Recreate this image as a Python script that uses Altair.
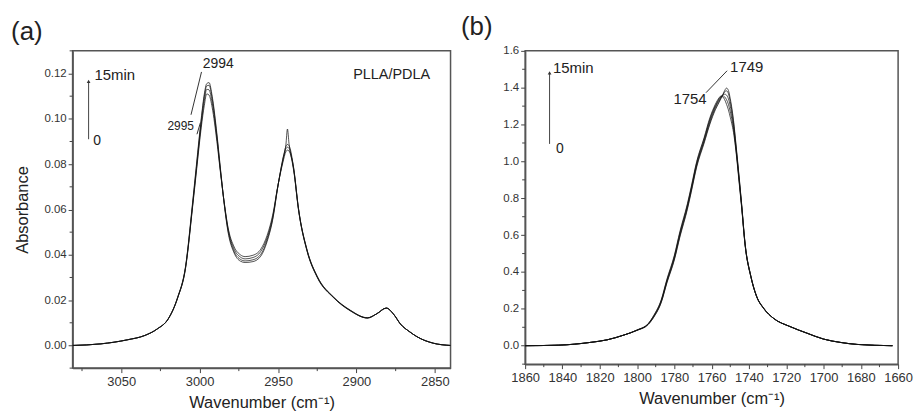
import altair as alt
import pandas as pd

FONT = "Liberation Sans"
INK = "#222222"
FRAME = "#555555"

# ---------------- Panel (a): C-H stretching region ----------------
WN_A = [3081, 3063, 3046, 3035, 3027, 3020, 3014, 3009, 3004.5, 3002, 2999, 2997,
        2995.5, 2994, 2992, 2989, 2986.5, 2984, 2982, 2978, 2974, 2971, 2966, 2961,
        2957, 2953, 2950.5, 2947, 2945, 2944, 2943, 2940, 2937, 2931.5, 2925, 2914.5,
        2904, 2893, 2887, 2881, 2876, 2872, 2866, 2861.5, 2851, 2840]
A_T0 = [0.0000, 0.0007, 0.0025, 0.0044, 0.0073, 0.0117, 0.0210, 0.0340, 0.0610, 0.0770, 0.0960, 0.1060,
        0.1110, 0.1105, 0.1050, 0.0900, 0.0750, 0.0615, 0.0525, 0.0435, 0.0400, 0.0392, 0.0398, 0.0425,
        0.0485, 0.0590, 0.0690, 0.0805, 0.0855, 0.0862, 0.0858, 0.0770, 0.0600, 0.0416, 0.0300, 0.0210,
        0.0153, 0.0121, 0.0140, 0.0165, 0.0135, 0.0095, 0.0060, 0.0039, 0.0010, 0.0000]
A_T5 = [0.0000, 0.0007, 0.0025, 0.0044, 0.0073, 0.0117, 0.0210, 0.0342, 0.0615, 0.0780, 0.0975, 0.1080,
        0.1130, 0.1128, 0.1070, 0.0915, 0.0755, 0.0612, 0.0520, 0.0425, 0.0390, 0.0382, 0.0388, 0.0415,
        0.0475, 0.0582, 0.0688, 0.0812, 0.0868, 0.0875, 0.0870, 0.0775, 0.0603, 0.0418, 0.0302, 0.0211,
        0.0154, 0.0121, 0.0140, 0.0165, 0.0135, 0.0095, 0.0060, 0.0039, 0.0010, 0.0000]
A_T10 = [0.0000, 0.0007, 0.0025, 0.0044, 0.0073, 0.0118, 0.0212, 0.0345, 0.0622, 0.0790, 0.0990, 0.1100,
         0.1145, 0.1148, 0.1090, 0.0925, 0.0760, 0.0608, 0.0512, 0.0415, 0.0380, 0.0373, 0.0378, 0.0402,
         0.0465, 0.0575, 0.0686, 0.0818, 0.0878, 0.0887, 0.0882, 0.0780, 0.0605, 0.0420, 0.0304, 0.0212,
         0.0155, 0.0122, 0.0140, 0.0165, 0.0135, 0.0095, 0.0060, 0.0039, 0.0010, 0.0000]
A_T15 = [0.0000, 0.0007, 0.0025, 0.0044, 0.0073, 0.0118, 0.0213, 0.0348, 0.0630, 0.0800, 0.1000, 0.1110,
         0.1155, 0.1160, 0.1100, 0.0935, 0.0765, 0.0605, 0.0505, 0.0408, 0.0372, 0.0366, 0.0370, 0.0394,
         0.0458, 0.0570, 0.0685, 0.0822, 0.0885, 0.0955, 0.0890, 0.0782, 0.0607, 0.0422, 0.0305, 0.0213,
         0.0156, 0.0122, 0.0140, 0.0165, 0.0135, 0.0095, 0.0060, 0.0039, 0.0010, 0.0000]
CURVES_A = {"0": A_T0, "5": A_T5, "10": A_T10, "15": A_T15}

X_DOMAIN_A = [2840, 3081]
Y_DOMAIN_A = [-0.01, 0.13]
X_MAJOR_A = [3050, 3000, 2950, 2900, 2850]
X_MINOR_A = [3075, 3025, 2975, 2925, 2875]
Y_MAJOR_A = [0.00, 0.02, 0.04, 0.06, 0.08, 0.10, 0.12]
Y_MINOR_A = [-0.01, 0.01, 0.03, 0.05, 0.07, 0.09, 0.11, 0.13]

TEXT_A = ["15min", "0", "2994", "2995", "PLLA/PDLA"]
TEXT_A_WN = [3067.1, 3067.8, 2998.0, 3020.5, 2902.1]
TEXT_A_ABS = [0.1195, 0.0900, 0.1243, 0.0968, 0.1195]
TEXT_A_SIZE = [15, 14, 14, 12, 14.5]

ARROW_A_WN = [3070.8]
ARROW_A_FROM = [0.0910]
ARROW_A_TO = [0.1165]
POINTER_A_WN1 = [3005.5, 3001.7]
POINTER_A_ABS1 = [0.1018, 0.0932]
POINTER_A_WN2 = [2998.8, 2999.5]
POINTER_A_ABS2 = [0.1207, 0.0983]

# ---------------- Panel (b): C=O stretching region ----------------
WN_B = [1860, 1842, 1825, 1816, 1807, 1800, 1794, 1791, 1787, 1784, 1780, 1777, 1773, 1771,
        1768, 1764, 1761, 1758, 1756, 1755, 1754, 1753, 1752, 1751, 1750, 1748, 1747, 1745,
        1744, 1742, 1739, 1736, 1732, 1727, 1718, 1709, 1700, 1691, 1682, 1663]
B_T0 = [0.000, 0.003, 0.018, 0.032, 0.058, 0.085, 0.120, 0.165, 0.250, 0.360, 0.490, 0.620, 0.770, 0.860,
        1.000, 1.130, 1.235, 1.310, 1.345, 1.355, 1.350, 1.335, 1.310, 1.280, 1.240, 1.140, 1.060, 0.860,
        0.760, 0.540, 0.375, 0.270, 0.200, 0.150, 0.104, 0.068, 0.036, 0.018, 0.007, 0.000]
B_T4 = [0.000, 0.003, 0.018, 0.032, 0.058, 0.085, 0.119, 0.163, 0.246, 0.355, 0.484, 0.613, 0.763, 0.852,
        0.993, 1.123, 1.227, 1.303, 1.340, 1.353, 1.356, 1.350, 1.335, 1.310, 1.270, 1.155, 1.070, 0.868,
        0.765, 0.543, 0.376, 0.270, 0.201, 0.150, 0.104, 0.068, 0.036, 0.018, 0.007, 0.000]
B_T8 = [0.000, 0.003, 0.018, 0.032, 0.058, 0.084, 0.118, 0.160, 0.242, 0.350, 0.477, 0.605, 0.755, 0.845,
        0.985, 1.115, 1.218, 1.296, 1.334, 1.350, 1.360, 1.365, 1.360, 1.340, 1.300, 1.170, 1.080, 0.876,
        0.770, 0.545, 0.377, 0.271, 0.202, 0.150, 0.104, 0.069, 0.036, 0.018, 0.007, 0.000]
B_T12 = [0.000, 0.003, 0.018, 0.032, 0.058, 0.084, 0.116, 0.157, 0.238, 0.344, 0.470, 0.597, 0.747, 0.837,
         0.977, 1.107, 1.208, 1.288, 1.327, 1.345, 1.362, 1.378, 1.383, 1.368, 1.325, 1.188, 1.090, 0.884,
         0.776, 0.548, 0.379, 0.271, 0.202, 0.150, 0.104, 0.069, 0.036, 0.018, 0.007, 0.000]
B_T15 = [0.000, 0.003, 0.018, 0.032, 0.058, 0.083, 0.115, 0.155, 0.235, 0.340, 0.465, 0.590, 0.740, 0.830,
         0.970, 1.100, 1.200, 1.280, 1.320, 1.340, 1.362, 1.385, 1.398, 1.385, 1.340, 1.200, 1.100, 0.890,
         0.780, 0.550, 0.380, 0.272, 0.203, 0.150, 0.104, 0.069, 0.036, 0.018, 0.007, 0.000]
CURVES_B = {"0": B_T0, "4": B_T4, "8": B_T8, "12": B_T12, "15": B_T15}

X_DOMAIN_B = [1660, 1860]
Y_DOMAIN_B = [-0.1, 1.6]
X_MAJOR_B = [1860, 1840, 1820, 1800, 1780, 1760, 1740, 1720, 1700, 1680, 1660]
X_MINOR_B = [1850, 1830, 1810, 1790, 1770, 1750, 1730, 1710, 1690, 1670]
Y_MAJOR_B = [0.0, 0.2, 0.4, 0.6, 0.8, 1.0, 1.2, 1.4, 1.6]
Y_MINOR_B = [-0.1, 0.1, 0.3, 0.5, 0.7, 0.9, 1.1, 1.3, 1.5]

TEXT_B = ["15min", "0", "1749", "1754"]
TEXT_B_WN = [1845.1, 1843.5, 1750.1, 1780.5]
TEXT_B_ABS = [1.505, 1.070, 1.514, 1.338]
TEXT_B_SIZE = [15, 14, 15, 15]

ARROW_B_WN = [1846.9]
ARROW_B_FROM = [1.095]
ARROW_B_TO = [1.480]
POINTER_B_WN1 = [1763.0]
POINTER_B_ABS1 = [1.373]
POINTER_B_WN2 = [1751.7]
POINTER_B_ABS2 = [1.492]


def long_table(wn, curves):
    rows = []
    for name, vals in curves.items():
        for w, v in zip(wn, vals):
            rows.append({"wn": w, "absb": v, "t": name})
    return pd.DataFrame(rows)


def panel(wn, curves, xdom, ydom, xmajor, xminor, ymajor, yminor, yfmt, ytitle,
          texts, arrow, pointers, width, height, label, title_dx):
    x_scale = alt.Scale(domain=xdom, reverse=True, nice=False, zero=False)
    y_scale = alt.Scale(domain=ydom, nice=False, zero=False)
    x_axis = alt.Axis(
        values=xmajor, tickCount=100, format="d", title="Wavenumber (cm⁻¹)", grid=False,
        tickSize=4.5, labelFontSize=13, titleFontSize=16.5, labelPadding=3, titlePadding=6,
        labelFlush=False, labelOverlap=False,
    )
    y_axis = alt.Axis(
        values=ymajor, tickCount=100, format=yfmt, title=ytitle, grid=False,
        tickSize=4.5, labelFontSize=11.5, titleFontSize=16.5, labelPadding=2, titlePadding=13,
        labelFlush=False, labelOverlap=False,
    )
    df = long_table(wn, curves)
    lines = alt.Chart(df).mark_line(
        color="#111111", strokeWidth=0.9, opacity=0.8, interpolate="monotone", clip=True
    ).encode(
        x=alt.X("wn:Q", scale=x_scale, axis=x_axis),
        y=alt.Y("absb:Q", scale=y_scale, axis=y_axis),
        detail="t:N",
    )

    # minor ticks (outward, shorter than the major ones)
    ymin_df = pd.DataFrame({"absb": yminor})
    y_minor_ticks = alt.Chart(ymin_df).mark_rule(color="#444444", strokeWidth=1, clip=False).encode(
        y=alt.Y("absb:Q", scale=y_scale), x=alt.value(-3), x2=alt.value(0)
    )
    xmin_df = pd.DataFrame({"wn": xminor})
    x_minor_ticks = alt.Chart(xmin_df).mark_rule(color="#444444", strokeWidth=1, clip=False).encode(
        x=alt.X("wn:Q", scale=x_scale), y=alt.value(height), y2=alt.value(height + 3)
    )

    t_lab, t_wn, t_abs, t_size = texts
    tdf = pd.DataFrame({"txt": t_lab, "wn": t_wn, "absb": t_abs, "fs": t_size})
    text = alt.Chart(tdf).mark_text(
        align="left", baseline="middle", font=FONT, color=INK
    ).encode(
        x=alt.X("wn:Q", scale=x_scale), y=alt.Y("absb:Q", scale=y_scale),
        text="txt:N", size=alt.Size("fs:Q", scale=None, legend=None),
    )

    a_wn, a_from, a_to = arrow
    adf = pd.DataFrame({"wn": a_wn, "y1": a_from, "y2": a_to})
    arrow_shaft = alt.Chart(adf).mark_rule(color="#444444", strokeWidth=1).encode(
        x=alt.X("wn:Q", scale=x_scale), y=alt.Y("y1:Q", scale=y_scale), y2="y2:Q"
    )
    arrow_head = alt.Chart(adf).mark_point(
        shape="triangle-up", filled=True, size=14, color="#333333", opacity=1
    ).encode(x=alt.X("wn:Q", scale=x_scale), y=alt.Y("y2:Q", scale=y_scale))

    p_wn1, p_abs1, p_wn2, p_abs2 = pointers
    pdf = pd.DataFrame({"x1": p_wn1, "y1": p_abs1, "x2": p_wn2, "y2": p_abs2})
    pointer = alt.Chart(pdf).mark_rule(color="#333333", strokeWidth=1).encode(
        x=alt.X("x1:Q", scale=x_scale), y=alt.Y("y1:Q", scale=y_scale), x2="x2:Q", y2="y2:Q"
    )

    return alt.layer(
        lines, y_minor_ticks, x_minor_ticks, arrow_shaft, arrow_head, pointer, text
    ).properties(
        width=width, height=height,
        title=alt.TitleParams(
            label, anchor="start", frame="bounds", fontSize=26, font=FONT,
            fontWeight="normal", color=INK, dx=title_dx, offset=5,
        ),
    )


chart_a = panel(
    WN_A, CURVES_A, X_DOMAIN_A, Y_DOMAIN_A, X_MAJOR_A, X_MINOR_A, Y_MAJOR_A, Y_MINOR_A,
    ".2f", "Absorbance",
    (TEXT_A, TEXT_A_WN, TEXT_A_ABS, TEXT_A_SIZE),
    (ARROW_A_WN, ARROW_A_FROM, ARROW_A_TO),
    (POINTER_A_WN1, POINTER_A_ABS1, POINTER_A_WN2, POINTER_A_ABS2),
    380, 319, "(a)", -4,
)
chart_b = panel(
    WN_B, CURVES_B, X_DOMAIN_B, Y_DOMAIN_B, X_MAJOR_B, X_MINOR_B, Y_MAJOR_B, Y_MINOR_B,
    ".1f", "",
    (TEXT_B, TEXT_B_WN, TEXT_B_ABS, TEXT_B_SIZE),
    (ARROW_B_WN, ARROW_B_FROM, ARROW_B_TO),
    (POINTER_B_WN1, POINTER_B_ABS1, POINTER_B_WN2, POINTER_B_ABS2),
    375, 315, "(b)", -42,
)

chart = alt.hconcat(chart_a, chart_b, spacing=8).properties(
    padding={"left": 10, "top": 12, "right": 4, "bottom": 0},
    background="white",
).configure_view(
    stroke=FRAME, strokeWidth=1.5
).configure_axis(
    labelFont=FONT, titleFont=FONT, labelColor="#333333", titleColor=INK,
    domainColor=FRAME, domainWidth=1.5, tickColor="#444444", tickWidth=1,
    titleFontWeight="normal",
)

chart.save("out.html", embed_options={"renderer": "svg", "actions": False})
